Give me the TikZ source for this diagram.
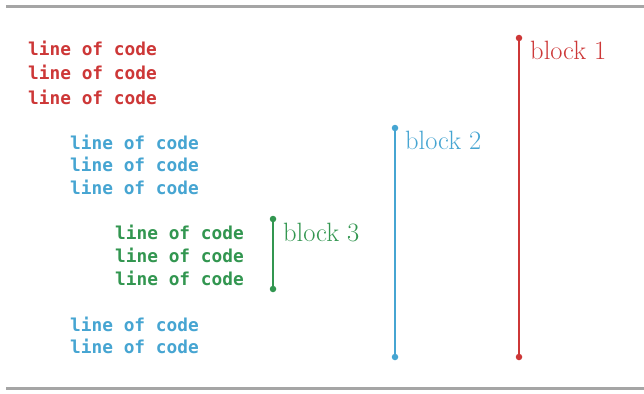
\documentclass[tikz,border=0pt]{standalone}
\usepackage{fontspec}
\newfontfamily\codefont{DejaVu Sans Mono}
\definecolor{cred}{RGB}{205,55,55}
\definecolor{cblue}{RGB}{70,165,210}
\definecolor{cgreen}{RGB}{50,150,80}
\definecolor{frame}{RGB}{165,165,165}
\tikzset{
  code/.style={anchor=base west, inner sep=0pt, font=\codefont\bfseries\fontsize{17.8}{19}\selectfont},
  blocklabel/.style={anchor=base west, inner sep=0pt, font=\fontsize{26.5}{28}\selectfont},
  bar/.style={line width=2.4pt},
  enddot/.style={circle, fill, inner sep=0pt, minimum size=6.5pt},
}
\begin{document}
\begin{tikzpicture}[x=1pt,y=-1pt]
\useasboundingbox (0,0) rectangle (644,393);
\fill[white] (0,0) rectangle (644,393);
\draw[frame, line width=3pt] (6,7) -- (644,7);
\draw[frame, line width=3pt] (6,388) -- (644,388);

% red
\node[code, text=cred] (r1) at (28,56) {line of code};
\node[code, text=cred] (r2) at (28,80) {line of code};
\node[code, text=cred] (r3) at (28,104) {line of code};
% blue
\node[code, text=cblue] (b1) at (70,149) {line of code};
\node[code, text=cblue] (b2) at (70,171) {line of code};
\node[code, text=cblue] (b3) at (70,194) {line of code};
% green
\node[code, text=cgreen] (g1) at (115,239) {line of code};
\node[code, text=cgreen] (g2) at (115,262) {line of code};
\node[code, text=cgreen] (g3) at (115,285) {line of code};
% blue
\node[code, text=cblue] (b4) at (70,331) {line of code};
\node[code, text=cblue] (b5) at (70,353) {line of code};

% bars
\node[enddot, cred] (rt) at (519,38) {};
\node[enddot, cred] (rb) at (519,357) {};
\draw[bar, cred] (rt.center) -- (rb.center);
\node[enddot, cblue] (bt) at (395,128) {};
\node[enddot, cblue] (bb) at (395,357) {};
\draw[bar, cblue] (bt.center) -- (bb.center);
\node[enddot, cgreen] (gt) at (273,219) {};
\node[enddot, cgreen] (gb) at (273,289) {};
\draw[bar, cgreen, line width=2.2pt] (gt.center) -- (gb.center);

% labels
\node[blocklabel, text=cred] (l1) at (530,60) {block 1};
\node[blocklabel, text=cblue] (l2) at (405,149) {block 2};
\node[blocklabel, text=cgreen] (l3) at (283,241) {block 3};
\end{tikzpicture}
\end{document}
